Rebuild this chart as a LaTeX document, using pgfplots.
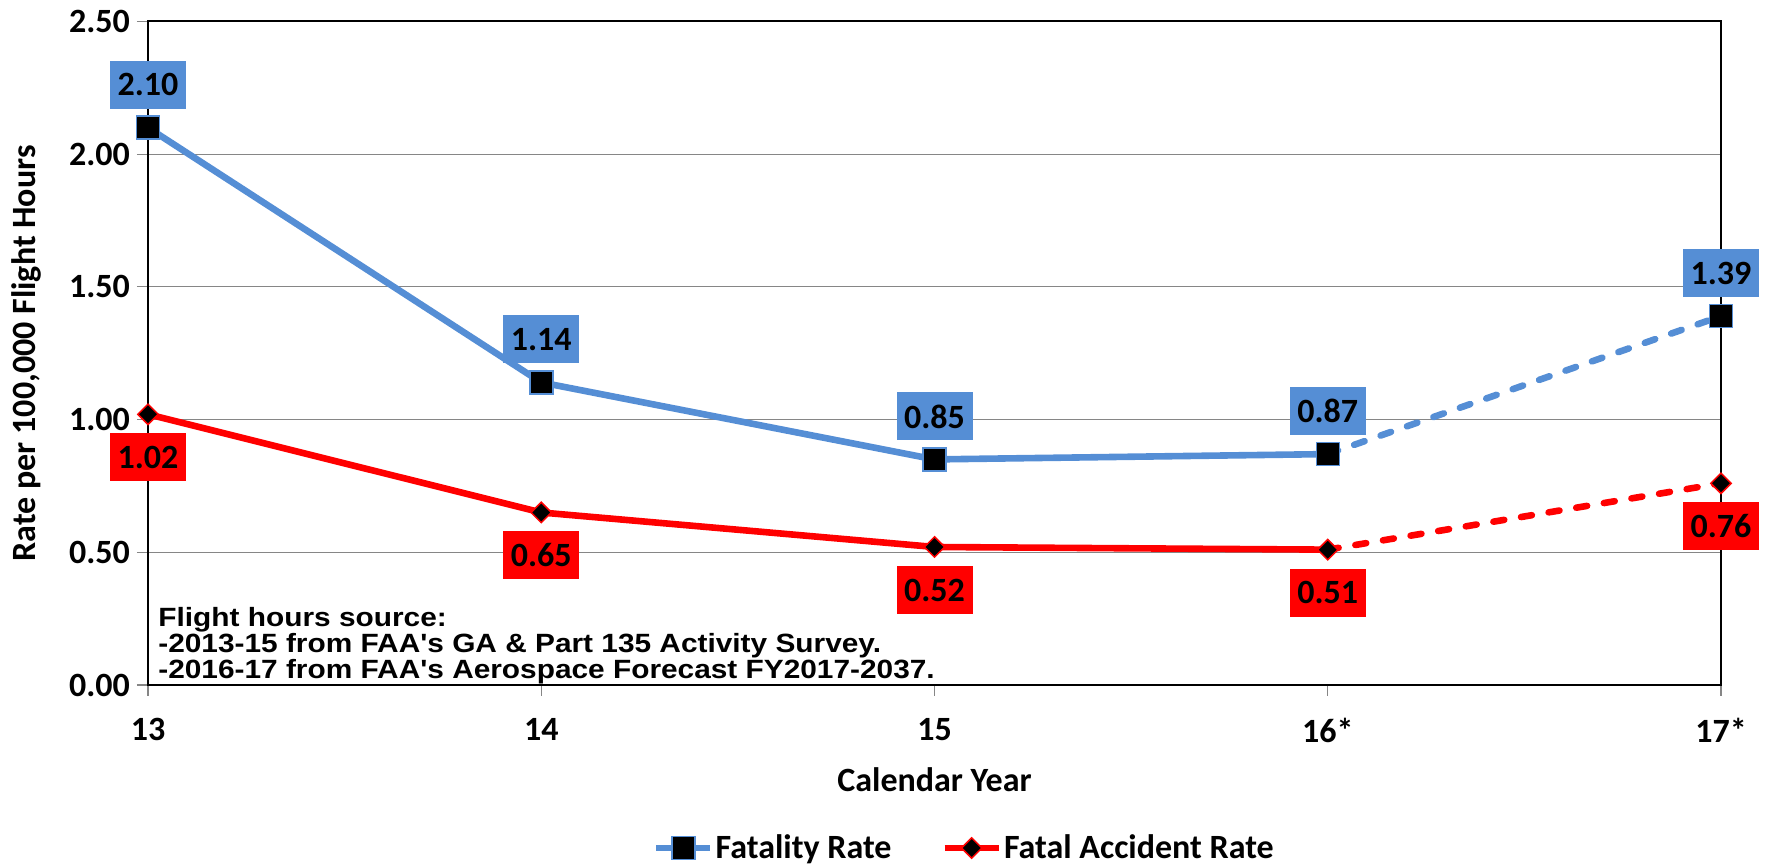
\documentclass[border=0pt]{standalone}
\usepackage{fontspec}
\setmainfont{Carlito}
\newfontfamily\arialb{Liberation Sans}[FakeStretch=1.13]
\usepackage{pgfplots}
\pgfplotsset{compat=1.18}
\definecolor{blueC}{RGB}{85,142,213}
\definecolor{redC}{RGB}{255,0,0}
\definecolor{gridC}{RGB}{134,134,134}
\newcommand{\bigf}{\bfseries\fontsize{17}{20}\selectfont}
\newcommand{\notef}{\arialb\bfseries\fontsize{13.2}{15}\selectfont}
\begin{document}
\begin{tikzpicture}
\path[use as bounding box] (0pt,0pt) rectangle (886.5pt,433.5pt);
\begin{axis}[
  at={(74pt,91pt)}, anchor=south west,
  scale only axis, width=786.5pt, height=331.75pt,
  xmin=0, xmax=4, ymin=0, ymax=2.5,
  xtick={0,1,2,3,4}, xticklabels={13,14,15,16*,17*},
  ytick={0,0.5,1,1.5,2,2.5},
  xtick pos=bottom, ytick pos=left,
  /pgf/number format/assume math mode=true,
  yticklabel style={/pgf/number format/.cd, fixed, fixed zerofill, precision=2},
  xticklabel style={yshift=-7.5pt},
  ticklabel style={font=\bigf},
  tick align=outside, major tick length=5.5pt,
  tick style={gridC, line width=0.6pt},
  ymajorgrids, grid style={gridC, line width=0.6pt},
  axis line style={black, line width=1pt},
  clip=false,
  xlabel={Calendar Year}, ylabel={Rate per 100,000 Flight Hours},
  label style={font=\bigf},
  xlabel style={at={(rel axis cs:0.5,0)}, anchor=center, yshift=-47.5pt},
  ylabel style={at={(rel axis cs:0,0.5)}, anchor=center, yshift=61pt},
  legend columns=2,
  legend style={at={(rel axis cs:0.519,-0.2457)}, anchor=center, draw=none, fill=none,
    inner sep=0pt, font=\bigf, nodes={inner sep=1pt},
    /tikz/every even column/.append style={column sep=24pt}},
  legend image code/.code={\draw[mark repeat=2, mark phase=2, #1] plot coordinates {(0pt,0pt) (13.5pt,0pt) (27pt,0pt)};},
]
% legend images
\addlegendimage{blueC, line width=3.3pt, mark=square*, mark size=5.75pt, mark options={fill=black, draw=blueC, line width=0.75pt, solid}}
\addlegendentry{Fatality Rate}
\addlegendimage{redC, line width=3.3pt, mark=square*, mark size=3.6pt, mark options={rotate=45, fill=black, draw=redC, line width=0.75pt, solid}}
\addlegendentry{Fatal Accident Rate}
% lines
\addplot[forget plot, blueC, line width=3.3pt, line join=round, no marks] coordinates {(0,2.10) (1,1.14) (2,0.85) (3,0.87)};
\addplot[forget plot, blueC, line width=3.3pt, line cap=round, dash pattern=on 5.5pt off 8.5pt, no marks] coordinates {(3,0.87) (4,1.39)};
\addplot[forget plot, redC, line width=3.3pt, line join=round, no marks] coordinates {(0,1.02) (1,0.65) (2,0.52) (3,0.51)};
\addplot[forget plot, redC, line width=3.3pt, line cap=round, dash pattern=on 5.5pt off 8.5pt, no marks] coordinates {(3,0.51) (4,0.76)};
% markers and labels
\addplot[forget plot, only marks, mark=square*, mark size=5.75pt, mark options={fill=black, draw=blueC, line width=0.75pt},
  nodes near coords={\pgfmathprintnumber[fixed,fixed zerofill,precision=2]{\pgfplotspointmeta}},
  every node near coord/.style={anchor=center, yshift=21.5pt, fill=blueC, text=black, font=\bigf, inner sep=0pt, minimum width=38pt, minimum height=24pt}]
  coordinates {(0,2.10) (1,1.14) (2,0.85) (3,0.87) (4,1.39)};
\addplot[forget plot, only marks, mark=square*, mark size=3.6pt, mark options={rotate=45, fill=black, draw=redC, line width=0.75pt},
  nodes near coords={\pgfmathprintnumber[fixed,fixed zerofill,precision=2]{\pgfplotspointmeta}},
  every node near coord/.style={anchor=center, yshift=-21.5pt, fill=redC, text=black, font=\bigf, inner sep=0pt, minimum width=38pt, minimum height=24pt}]
  coordinates {(0,1.02) (1,0.65) (2,0.52) (3,0.51) (4,0.76)};
% annotation
\node[anchor=base west, inner sep=0pt, font=\notef] at (axis cs:0.0254,0.2208) {Flight hours source:};
\node[anchor=base west, inner sep=0pt, font=\notef] at (axis cs:0.0254,0.1226) {-2013-15 from FAA's GA \& Part 135 Activity Survey.};
\node[anchor=base west, inner sep=0pt, font=\notef] at (axis cs:0.0254,0.0245) {-2016-17 from FAA's Aerospace Forecast FY2017-2037.};
\end{axis}
\end{tikzpicture}
\end{document}
